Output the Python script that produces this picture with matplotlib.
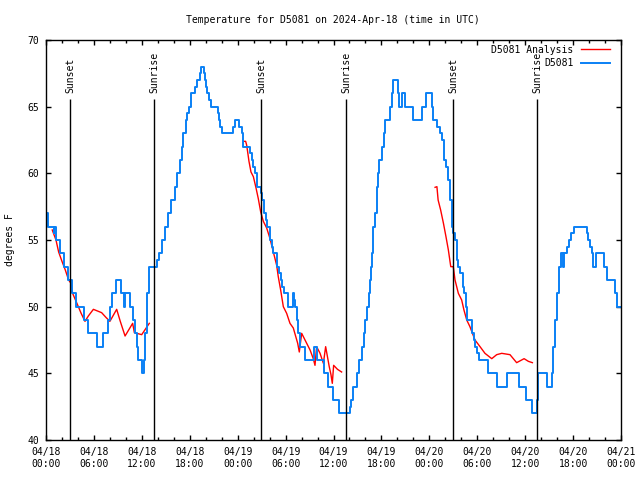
import numpy as np
import matplotlib
matplotlib.use("Agg")
import matplotlib.pyplot as plt
import matplotlib.dates as mdates

# hours after 2024-04-18 00:00 UTC
obs_hours = [0.0, 0.2, 0.95, 1.05, 1.3, 1.8, 2.2, 2.7, 3.3, 3.8, 4.8, 5.3, 6.4, 7.1, 7.8, 8.0,
             8.3, 8.75, 9.45, 9.75, 9.85, 10.5, 10.85, 11.2, 11.35, 11.5, 12.0, 12.3, 12.45,
             12.6, 12.9, 13.94, 14.1, 14.5, 14.9, 15.3, 15.7, 16.1, 16.4, 16.75, 17.0, 17.2,
             17.5, 17.7, 17.86, 18.2, 18.66, 18.9, 19.3, 19.41, 19.75, 19.85, 20.0, 20.2,
             20.45, 20.62, 21.5, 21.6, 21.79, 22.0, 23.45, 23.67, 24.2, 24.5, 24.63, 25.54,
             25.8, 25.96, 26.17, 26.46, 26.92, 27.09, 27.3, 27.55, 27.71, 28.05, 28.3, 28.47,
             28.89, 29.22, 29.43, 29.6, 29.76, 30.26, 30.89, 31.05, 31.2, 31.39, 31.6, 31.8,
             32.43, 33.6, 33.93, 34.85, 35.35, 35.98, 36.69, 38.07, 38.2, 38.48, 38.9, 39.24,
             39.53, 39.86, 40.0, 40.2, 40.4, 40.55, 40.7, 40.85, 40.99, 41.2, 41.41, 41.61,
             41.74, 42.1, 42.3, 42.45, 43.08, 43.29, 43.49, 44.1, 44.25, 44.6, 44.9, 45.9,
             47.1, 47.6, 48.3, 48.45, 49.0, 49.3, 49.6, 49.84, 50.09, 50.3, 50.59, 50.8,
             51.0, 51.2, 51.43, 51.63, 51.84, 52.17, 52.34, 52.59, 52.76, 53.3, 53.59, 53.72,
             53.93, 54.22, 55.3, 56.43, 57.77, 59.23, 60.07, 60.9, 61.52, 61.6, 62.78, 63.32,
             63.5, 63.74, 63.95, 64.2, 64.45, 64.7, 64.86, 65.2, 65.45, 65.8, 66.12, 67.7,
             67.91, 68.12, 68.33, 68.53, 68.87, 69.87, 70.2, 71.25, 71.54, 72.0]
obs_temps = [57, 56, 55.5, 56, 55, 54, 53, 52, 51, 50, 49, 48, 47, 48, 49, 50,
             51, 52, 51, 50, 51, 50, 49, 48, 47, 46, 45, 46, 48,
             51, 53, 53.5, 54, 55, 56, 57, 58, 59, 60, 61, 62, 63,
             64, 64.5, 65, 66, 66.5, 67, 67.5, 68, 67.5, 67, 66.5, 66,
             65.5, 65, 64.5, 64, 63.5, 63, 63.5, 64, 63.5, 63, 62, 61.5,
             61, 60.5, 60, 59, 58.5, 58, 57, 56.5, 56, 55, 54.5, 54,
             53, 52.5, 52, 51.5, 51, 50, 51, 50.5, 50, 49, 48, 47,
             46, 47, 46, 45, 44, 43, 42, 42.5, 43, 44, 45, 46,
             47, 48, 49, 50, 51, 52, 53, 54, 56, 57, 59, 60,
             61, 62, 63, 64, 65, 66, 67, 66, 65, 66, 65, 64,
             65, 66, 65, 64, 63.5, 63, 62.5, 61, 60.5, 59.5, 58, 56,
             55.5, 55, 53.5, 53, 52.5, 51.5, 51, 50, 49, 48, 47.5, 47,
             46.5, 46, 45, 44, 45, 44, 43, 42, 43, 45, 44, 45,
             47, 49, 51, 53, 54, 53, 54, 54.5, 55, 55.5, 56, 55.5,
             55, 54.5, 54, 53, 54, 53, 52, 51, 50, 50]

ana1_hours = [0.79, 1.25, 1.59, 2.0, 2.42, 2.84, 3.13, 3.34, 4.05, 4.4, 4.88, 5.3, 5.93,
              6.97, 7.5, 8.0, 8.85, 9.3, 9.9, 10.85, 11.06, 11.98, 12.94]
ana1_temps = [55.75, 55.0, 54.1, 53.4, 52.75, 52.0, 51.75, 51.0, 50.0, 49.5, 48.9, 49.3, 49.8,
              49.55, 49.2, 48.9, 49.8, 48.9, 47.8, 48.75, 48.05, 47.9, 48.75]
ana2_hours = [24.83, 25.0, 25.13, 25.42, 25.67, 25.96, 26.3, 26.59, 26.88, 27.21, 27.63, 28.05,
              28.47, 28.89, 29.09, 29.39, 29.72, 30.14, 30.55, 30.97, 31.51, 31.72, 32.02,
              32.43, 33.06, 33.47, 33.68, 33.89, 34.31, 34.73, 35.02, 35.47, 35.69, 35.85,
              36.02, 36.5, 37.02]
ana2_temps = [62.4, 62.4, 62.1, 60.9, 60.1, 59.75, 58.9, 58.1, 57.1, 56.4, 55.9, 55.1,
              54.1, 53.1, 52.25, 51.25, 50.0, 49.5, 48.75, 48.4, 47.25, 46.6, 48.0,
              47.5, 46.75, 46.1, 45.6, 47.0, 46.5, 45.75, 47.0, 45.5, 44.9, 44.25,
              45.6, 45.3, 45.1]
ana3_hours = [48.71, 48.95, 49.1, 49.42, 49.76, 50.09, 50.38, 50.68, 51.0, 51.21, 51.63, 52.05,
              52.34, 52.68, 53.09, 53.72, 54.35, 54.97, 55.81, 56.43, 57.06, 58.1, 58.94,
              59.86, 60.4, 60.9]
ana3_temps = [58.95, 59.0, 58.0, 57.25, 56.25, 55.25, 54.25, 53.0, 53.0, 52.0, 51.0, 50.5,
              49.75, 49.0, 48.5, 47.5, 47.0, 46.5, 46.1, 46.4, 46.5, 46.4, 45.8,
              46.1, 45.9, 45.8]

sunset_hours = [3.03, 26.96, 51.0]
sunrise_hours = [13.56, 37.6, 61.52]

base = np.datetime64('2024-04-18T00:00')


def to_time(hours):
    return base + (np.array(hours) * 60).round().astype('timedelta64[m]')


plt.rcParams['font.family'] = 'DejaVu Sans Mono'
plt.rcParams['font.size'] = 7

fig = plt.figure(figsize=(6.4, 4.8), dpi=100)
ax = fig.add_axes([46 / 640, 40 / 480, 575 / 640, 400 / 480])

blue = '#0a80f5'
ana_label = 'D5081 Analysis'
for hrs, tmp in [(ana1_hours, ana1_temps), (ana2_hours, ana2_temps), (ana3_hours, ana3_temps)]:
    ax.plot(to_time(hrs), tmp, color='red', lw=1.0, label=ana_label)
    ana_label = None
ax.plot(to_time(obs_hours), obs_temps, color=blue, lw=1.4, drawstyle='steps-post', label='D5081')

for label, hrs in [('Sunset', sunset_hours), ('Sunrise', sunrise_hours)]:
    t = to_time(hrs)
    ax.vlines(t, 40, 65.6, color='black', lw=1.0)
    for ti in t:
        ax.text(ti, 66.0, label, rotation=90, ha='center', va='bottom', fontsize=7)

ax.set_xlim(to_time([0])[0], to_time([72])[0])
ax.set_ylim(40, 70)
ax.set_yticks(np.arange(40, 71, 5))
ax.xaxis.set_major_locator(mdates.HourLocator(byhour=range(0, 24, 6)))
ax.xaxis.set_minor_locator(mdates.HourLocator(byhour=range(0, 24, 2)))
ax.xaxis.set_major_formatter(mdates.DateFormatter('%m/%d\n%H:%M'))
ax.tick_params(which='both', direction='in', top=True, right=True, width=1)
ax.tick_params(which='major', length=3.4, pad=5)
ax.tick_params(which='minor', length=2.0)
for s in ax.spines.values():
    s.set_linewidth(1)

ax.set_ylabel('degrees F')
ax.yaxis.set_label_coords(-0.054, 0.5)
fig.text(333 / 640, 1 - 20 / 480, 'Temperature for D5081 on 2024-Apr-18 (time in UTC)',
         ha='center', va='center', fontsize=7)

ax.legend(loc='upper right', bbox_to_anchor=(1 - 4 / 575, 1 + 2 / 400), frameon=False,
          markerfirst=False, handlelength=3.0, handletextpad=0.8, labelspacing=0.35,
          borderaxespad=0.3, borderpad=0.4, fontsize=7)

fig.savefig('out.png', dpi=100)
